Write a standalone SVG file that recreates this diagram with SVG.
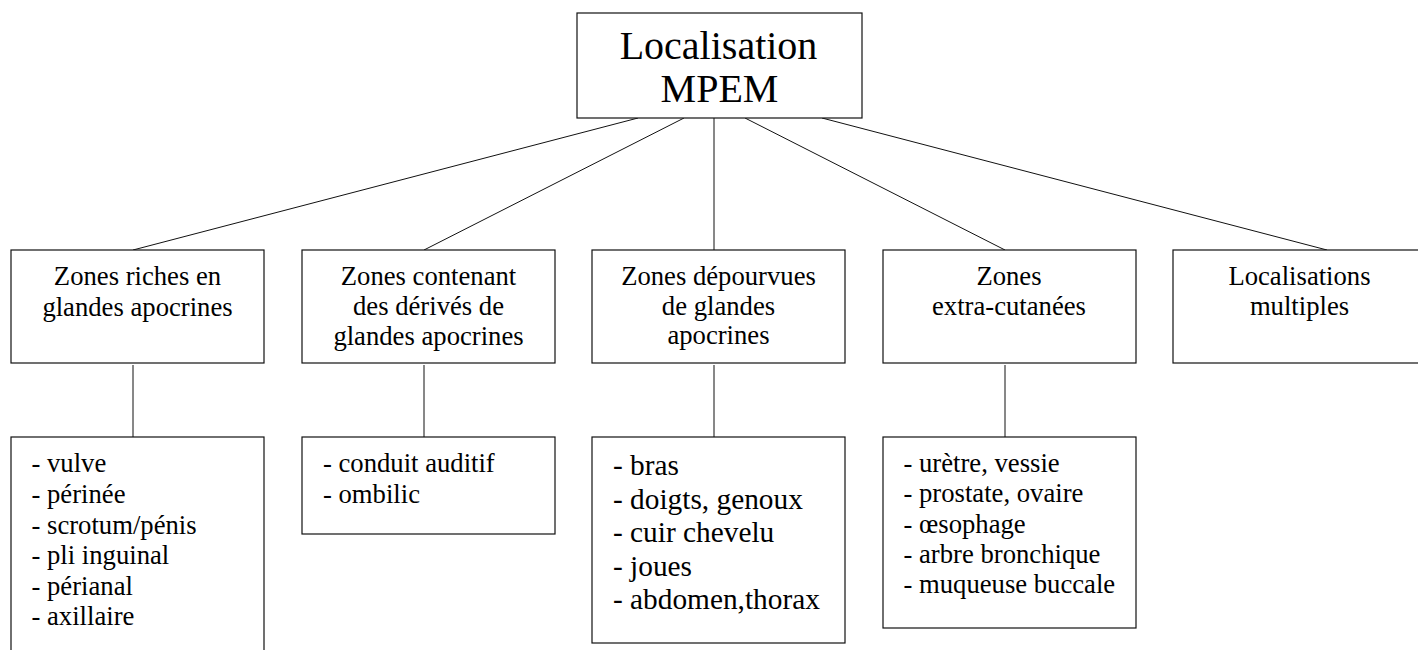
<svg xmlns="http://www.w3.org/2000/svg" width="1418" height="650" viewBox="0 0 1418 650">
<style>
.b{fill:#fff;stroke:#111;stroke-width:1.2}
line{stroke:#111;stroke-width:1}
.f{font-family:'Liberation Serif','Times New Roman',serif;fill:#000}
.t{font-size:40px;text-anchor:middle}
.h{font-size:26.67px;text-anchor:middle}
.l{font-size:26.67px}
.l2{font-size:29.33px}
</style>
<rect width="1418" height="650" fill="#fff"/>
<g id="connectors">
<line x1="638" y1="118" x2="133" y2="250"/>
<line x1="684" y1="118" x2="424" y2="250"/>
<line x1="714" y1="118" x2="714" y2="250"/>
<line x1="745" y1="118" x2="1005" y2="250"/>
<line x1="822" y1="118" x2="1327" y2="250"/>
<line x1="133" y1="365" x2="133" y2="437"/>
<line x1="424" y1="365" x2="424" y2="437"/>
<line x1="714" y1="365" x2="714" y2="437"/>
<line x1="1005" y1="365" x2="1005" y2="437"/>
</g>
<g class="f">
<g id="root">
<rect class="b" x="577" y="13" width="285" height="105"/>
<text class="t" x="718.5" y="59">Localisation</text>
<text class="t" x="719.5" y="102">MPEM</text>
</g>
<g id="n1">
<rect class="b" x="11" y="250" width="253" height="113"/>
<text class="h" x="137.5" y="285">Zones riches en</text>
<text class="h" x="137.5" y="316">glandes apocrines</text>
</g>
<g id="n2">
<rect class="b" x="302" y="250" width="253" height="113"/>
<text class="h" x="428.5" y="285">Zones contenant</text>
<text class="h" x="428.5" y="315">des dérivés de</text>
<text class="h" x="428.5" y="345">glandes apocrines</text>
</g>
<g id="n3">
<rect class="b" x="592" y="250" width="253" height="113"/>
<text class="h" x="718.5" y="285">Zones dépourvues</text>
<text class="h" x="718.5" y="315">de glandes</text>
<text class="h" x="718.5" y="344">apocrines</text>
</g>
<g id="n4">
<rect class="b" x="883" y="250" width="253" height="113"/>
<text class="h" x="1009" y="285">Zones</text>
<text class="h" x="1009" y="315">extra-cutanées</text>
</g>
<g id="n5">
<rect class="b" x="1173" y="250" width="253" height="113"/>
<text class="h" x="1299.5" y="285">Localisations</text>
<text class="h" x="1299.5" y="315">multiples</text>
</g>
<g id="d1">
<rect class="b" x="11" y="437" width="253" height="230"/>
<text class="l" x="31.5" y="472">- vulve</text>
<text class="l" x="31.5" y="503">- périnée</text>
<text class="l" x="31.5" y="533.5">- scrotum/pénis</text>
<text class="l" x="31.5" y="564">- pli inguinal</text>
<text class="l" x="31.5" y="594.5">- périanal</text>
<text class="l" x="31.5" y="625">- axillaire</text>
</g>
<g id="d2">
<rect class="b" x="302" y="437" width="253" height="97"/>
<text class="l" x="323" y="472">- conduit auditif</text>
<text class="l" x="323" y="502.5">- ombilic</text>
</g>
<g id="d3">
<rect class="b" x="592" y="437" width="253" height="206"/>
<text class="l2" x="613" y="475">- bras</text>
<text class="l2" x="613" y="508.5">- doigts, genoux</text>
<text class="l2" x="613" y="542">- cuir chevelu</text>
<text class="l2" x="613" y="575.5">- joues</text>
<text class="l2" x="613" y="609">- abdomen,thorax</text>
</g>
<g id="d4">
<rect class="b" x="883" y="437" width="253" height="191"/>
<text class="l" x="903.5" y="472">- urètre, vessie</text>
<text class="l" x="903.5" y="502">- prostate, ovaire</text>
<text class="l" x="903.5" y="532.5">- œsophage</text>
<text class="l" x="903.5" y="563">- arbre bronchique</text>
<text class="l" x="903.5" y="593">- muqueuse buccale</text>
</g>
</g>
</svg>
